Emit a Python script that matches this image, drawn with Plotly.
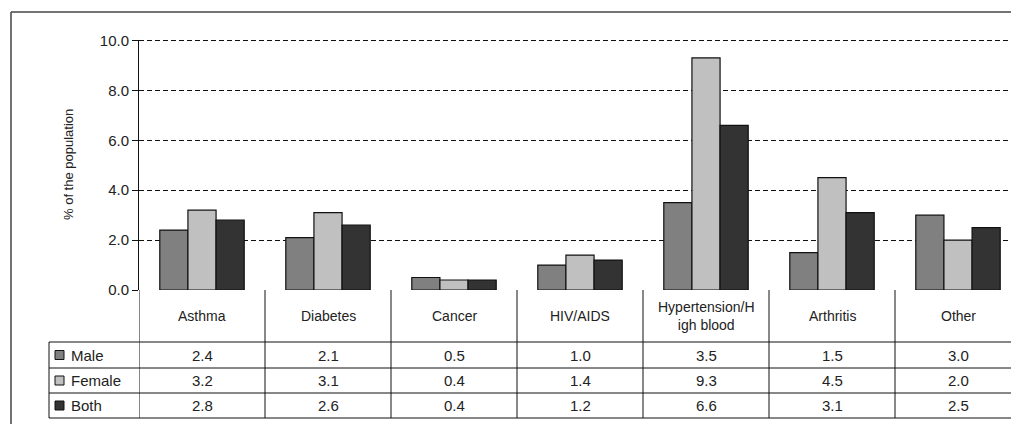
import plotly.graph_objects as go

# data
categories = ["Asthma", "Diabetes", "Cancer", "HIV/AIDS",
              "Hypertension/H<br>igh blood", "Arthritis", "Other"]
series_names = ["Male", "Female", "Both"]
male = [2.4, 2.1, 0.5, 1.0, 3.5, 1.5, 3.0]
female = [3.2, 3.1, 0.4, 1.4, 9.3, 4.5, 2.0]
both = [2.8, 2.6, 0.4, 1.2, 6.6, 3.1, 2.5]
y_ticks = [0, 2, 4, 6, 8, 10]

series_values = [male, female, both]
colors = ["#808080", "#c0c0c0", "#333333"]

# page has an 8px body margin, so screen pixels are offset;
# figure sized so the page doesn't scroll
OFF = 8
W, H = 1003, 416
L, R, T, B = 131, 0, 32, 134
plot_w = W - L - R
plot_h = H - T - B
CAT_PX = 126  # width of one category on screen
FONT = "Liberation Sans, Arial, sans-serif"
TXT = "#222222"
FS = 15


def px(x):
    # screen pixel -> paper x
    return (x - OFF - L) / plot_w


def py(y):
    # screen pixel -> paper y
    return (H - B - (y - OFF)) / plot_h


fig = go.Figure()
for name, vals, col in zip(series_names, series_values, colors):
    fig.add_trace(go.Bar(
        x=list(range(len(categories))), y=vals, name=name,
        marker=dict(color=col, line=dict(color="#111111", width=1.2)),
    ))

shapes = []
annotations = []

# table geometry (screen pixel rows)
header_top = 290
row_edges = [342, 368, 393, 418]
left_col = 49
n = len(categories)

# vertical dividers at category boundaries
for i in range(n + 1):
    shapes.append(dict(type="line", xref="x", yref="paper",
                       x0=i - 0.5, x1=i - 0.5, y0=0, y1=py(row_edges[-1]),
                       line=dict(color="#111111", width=1)))
# left edge of legend column
shapes.append(dict(type="line", xref="paper", yref="paper",
                   x0=px(left_col), x1=px(left_col),
                   y0=py(row_edges[0]), y1=py(row_edges[-1]),
                   line=dict(color="#111111", width=1)))
# horizontal table lines
for yy in row_edges:
    shapes.append(dict(type="line", xref="paper", yref="paper",
                       x0=px(left_col), x1=1.0, y0=py(yy), y1=py(yy),
                       line=dict(color="#111111", width=1)))
# top gridline (plotly skips the one on the range edge)
shapes.append(dict(type="line", xref="paper", yref="y", x0=0, x1=1.0,
                   y0=y_ticks[-1], y1=y_ticks[-1],
                   line=dict(color="#111111", width=1, dash="5px,3px")))

# header labels
for i, cat in enumerate(categories):
    annotations.append(dict(x=i, y=py((header_top + row_edges[0]) / 2), xref="x", yref="paper",
                            text=cat, showarrow=False, xanchor="center", yanchor="middle",
                            font=dict(family=FONT, size=FS - 1, color=TXT)))

# rows
for r, (name, vals, col) in enumerate(zip(series_names, series_values, colors)):
    ymid = (row_edges[r] + row_edges[r + 1]) / 2
    shapes.append(dict(type="rect", xref="paper", yref="paper",
                       x0=px(55), x1=px(64), y0=py(ymid - 4.5), y1=py(ymid + 4.5),
                       fillcolor=col, line=dict(color="#111111", width=1)))
    annotations.append(dict(x=px(69), y=py(ymid), xref="paper", yref="paper",
                            text=name, showarrow=False, xanchor="left", yanchor="middle",
                            font=dict(family=FONT, size=FS, color=TXT)))
    for i, v in enumerate(vals):
        annotations.append(dict(x=i, y=py(ymid), xref="x", yref="paper",
                                text=f"{v:.1f}", showarrow=False,
                                xanchor="center", yanchor="middle",
                                font=dict(family=FONT, size=FS, color=TXT)))

# outer chart border: only top and left edges are on screen
border = dict(color="#444444", width=1.5)
shapes.append(dict(type="line", xref="paper", yref="paper",
                   x0=px(11), x1=1.0, y0=py(12), y1=py(12), line=border))
shapes.append(dict(type="line", xref="paper", yref="paper",
                   x0=px(11), x1=px(11), y0=py(12), y1=py(440), line=border))

# y axis title
annotations.append(dict(x=px(68), y=0.5, xref="paper", yref="paper",
                        text="% of the population", textangle=-90, showarrow=False,
                        xanchor="center", yanchor="middle",
                        font=dict(family=FONT, size=13, color=TXT)))

fig.update_layout(
    width=W, height=H,
    margin=dict(l=L, r=R, t=T, b=B, pad=0),
    paper_bgcolor="white", plot_bgcolor="white",
    barmode="group", bargap=0.33, bargroupgap=0,
    showlegend=False,
    shapes=shapes, annotations=annotations,
    xaxis=dict(range=[-0.5, -0.5 + plot_w / CAT_PX], showticklabels=False,
               showgrid=False, zeroline=False, showline=False, ticks=""),
    yaxis=dict(range=[0, 10.02], tickvals=y_ticks, tickformat=".1f",
               showline=True, linecolor="#111111", linewidth=1,
               ticks="outside", ticklen=6, tickcolor="#111111",
               showgrid=True, gridcolor="#111111", gridwidth=1, griddash="5px,3px",
               zeroline=False,
               tickfont=dict(family=FONT, size=FS, color=TXT)),
    font=dict(family=FONT),
)

fig.write_html("out.html")
